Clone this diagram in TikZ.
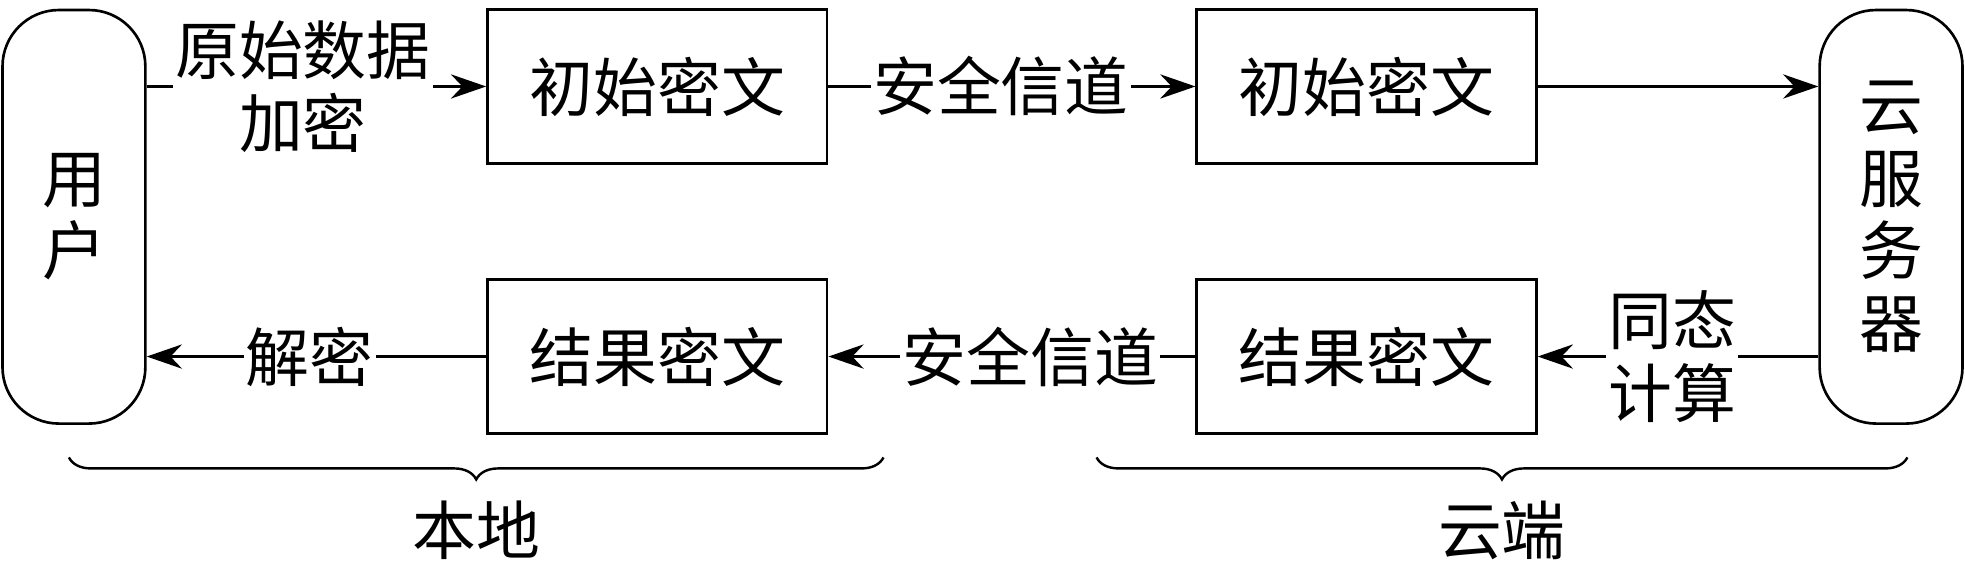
\documentclass[tikz,border=0pt]{standalone}
\usepackage{fontspec}
\setmainfont{Noto Sans CJK SC}
\usetikzlibrary{arrows.meta,decorations.pathreplacing}
\begin{document}
\begin{tikzpicture}[x=0.02cm,y=-0.02cm,
  every node/.style={font=\fontsize{29}{33}\selectfont},
  box/.style={draw,line width=1.2pt,minimum width=271*0.02cm,minimum height=123*0.02cm,inner sep=0},
  side/.style={draw,line width=1.2pt,rounded corners=0.9cm,minimum width=114*0.02cm,minimum height=330*0.02cm,align=center,inner sep=0},
  lbl/.style={fill=white,inner sep=1pt,align=center},
  con/.style={line width=1.2pt,-{Stealth[length=16pt,width=11pt]}},
  br/.style={line width=1.1pt,decorate,decoration={brace,mirror,amplitude=10pt}}]
\useasboundingbox (0,0) rectangle (1568,463);
\node[side] (u) at (59,173) {用\\户};
\node[side] (s) at (1509,173) {云\\服\\务\\器};
\node[box] (b1) at (524.5,69) {初始密文};
\node[box] (b2) at (1090.5,69) {初始密文};
\node[box] (b3) at (524.5,284.5) {结果密文};
\node[box] (b4) at (1090.5,284.5) {结果密文};
\draw[con] (u.east|-b1) -- node[lbl,pos=0.46]{原始数据\\加密} (b1.west);
\draw[con] (b1.east) -- node[lbl,pos=0.47]{安全信道} (b2.west);
\draw[con] (b2.east) -- (s.west|-b2);
\draw[con] (s.west|-b4) -- node[lbl,pos=0.52]{同态\\计算} (b4.east);
\draw[con] (b4.west) -- node[lbl,pos=0.45]{安全信道} (b3.east);
\draw[con] (b3.west) -- node[lbl,pos=0.52]{解密} (u.east|-b3);
\coordinate (l1) at (55,365); \coordinate (l2) at (705,365);
\coordinate (r1) at (875,365); \coordinate (r2) at (1522,365);
\draw[br] (l1) -- node[below=16pt]{本地} (l2);
\draw[br] (r1) -- node[below=16pt]{云端} (r2);
\end{tikzpicture}
\end{document}
